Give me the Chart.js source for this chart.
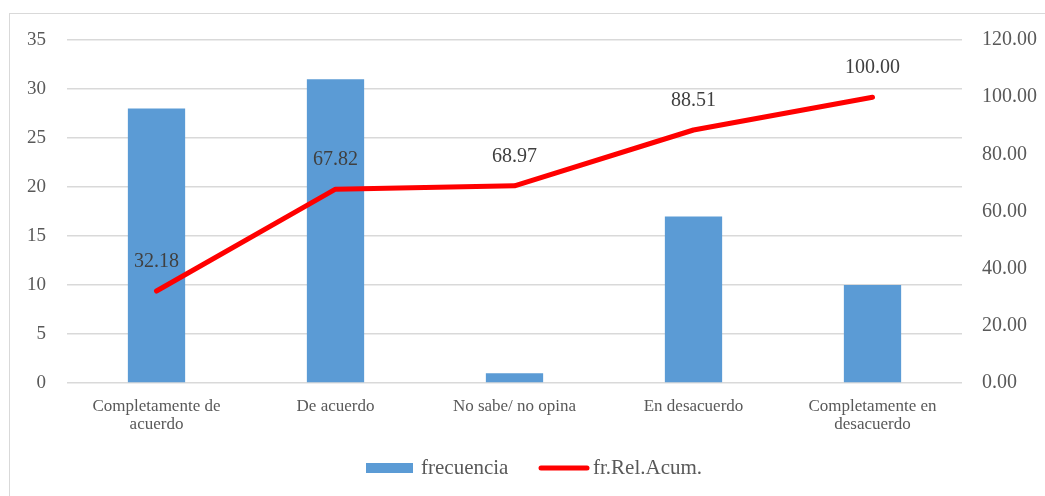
<!DOCTYPE html>
<html><head><meta charset="utf-8">
<script src="https://cdn.jsdelivr.net/npm/chart.js@4/dist/chart.umd.min.js"></script>
<style>
html,body{margin:0;padding:0;background:#fff;}
#wrap{position:relative;width:1045px;height:496px;overflow:hidden;}
#frame{position:absolute;left:9px;top:13px;width:1100px;height:600px;border:1px solid #d9d9d9;box-sizing:border-box;}
canvas{position:absolute;left:0;top:0;}
</style></head>
<body><div id="wrap"><div id="frame"></div><canvas id="c" width="1045" height="496"></canvas></div>
<script>
const categories = [["Completamente de","acuerdo"],"De acuerdo","No sabe/ no opina","En desacuerdo",["Completamente en","desacuerdo"]];
const frecuencia = [28,31,1,17,10];
const frRelAcum = [32.18,67.82,68.97,88.51,100.00];
const leftTicks = [0,5,10,15,20,25,30,35];
const rightTicks = [0,20,40,60,80,100,120];

const FONT = "'Liberation Serif','Times New Roman',serif";

const labelPlugin = {
  id:'lbl',
  afterDatasetsDraw(chart){
    const ctx = chart.ctx;
    const meta = chart.getDatasetMeta(1);
    ctx.save();
    ctx.font = "20px " + FONT;
    ctx.fillStyle = "#404040";
    ctx.textAlign = "center";
    ctx.textBaseline = "middle";
    meta.data.forEach((p,i)=>{
      ctx.fillText(frRelAcum[i].toFixed(2), p.x, p.y - 29);
    });
    ctx.restore();
  }
};
const legendPlugin = {
  id:'leg',
  afterDraw(chart){
    const ctx = chart.ctx;
    ctx.save();
    const y = 468;
    ctx.fillStyle = "#5b9bd5";
    ctx.fillRect(366, y-5, 47, 10);
    ctx.font = "21px " + FONT;
    ctx.fillStyle = "#595959";
    ctx.textBaseline = "middle";
    ctx.textAlign = "left";
    ctx.fillText("frecuencia", 421, y);
    ctx.strokeStyle = "#ff0000";
    ctx.lineWidth = 5;
    ctx.lineCap = "round";
    ctx.beginPath(); ctx.moveTo(541, y); ctx.lineTo(587, y); ctx.stroke();
    ctx.fillText("fr.Rel.Acum.", 593, y);
    ctx.restore();
  }
};

new Chart(document.getElementById('c'), {
  data:{
    labels: categories,
    datasets:[
      {type:'bar', label:'frecuencia', data: frecuencia, backgroundColor:'#5b9bd5', yAxisID:'y', categoryPercentage:1, barPercentage:0.32, order:2},
      {type:'line', label:'fr.Rel.Acum.', data: frRelAcum, borderColor:'#ff0000', borderWidth:5, pointRadius:0, tension:0, yAxisID:'y1', borderCapStyle:'round', borderJoinStyle:'round', order:1}
    ]
  },
  options:{
    responsive:false, animation:false,
    layout:{padding:{top:40,left:0,right:0,bottom:0}},
    plugins:{legend:{display:false}, tooltip:{enabled:false}},
    scales:{
      x:{
        grid:{display:false}, border:{display:false},
        ticks:{font:{family:FONT,size:17, lineHeight:1.06}, color:'#595959', maxRotation:0, padding:7},
        afterFit(s){ s.height = 113; }
      },
      y:{
        position:'left', min:0, max:35,
        afterBuildTicks(s){ s.ticks = leftTicks.map(v=>({value:v})); },
        grid:{color:'#d9d9d9', lineWidth:1.5, drawTicks:false}, border:{display:false},
        ticks:{font:{family:FONT,size:19}, color:'#595959', padding:21},
        afterFit(s){ s.width = 67; }
      },
      y1:{
        position:'right', min:0, max:120,
        afterBuildTicks(s){ s.ticks = rightTicks.map(v=>({value:v})); },
        grid:{display:false, drawTicks:false}, border:{display:false},
        ticks:{font:{family:FONT,size:20}, color:'#595959', padding:20, callback:v=>Number(v).toFixed(2)},
        afterFit(s){ s.width = 83; }
      }
    }
  },
  plugins:[labelPlugin, legendPlugin]
});
</script></body></html>
